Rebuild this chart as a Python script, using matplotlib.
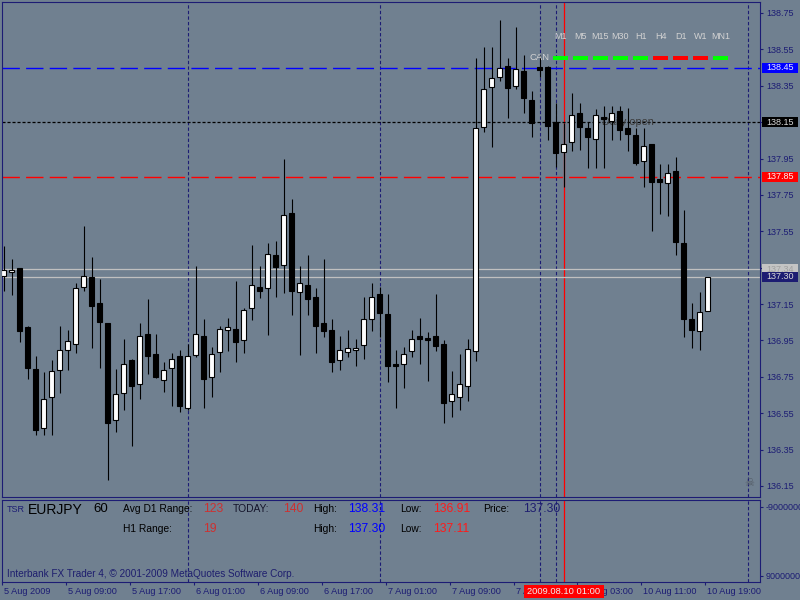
import numpy as np
import matplotlib.pyplot as plt
from matplotlib.patches import Rectangle
from matplotlib.transforms import blended_transform_factory, ScaledTranslation

plt.rcParams['font.family'] = ['Liberation Sans', 'DejaVu Sans']
plt.rcParams['lines.scale_dashes'] = False

# EURJPY H1 candles (5 Aug 2009 01:00 .. 10 Aug 2009 19:00)
opens = [137.303, 137.324, 137.347, 137.023, 136.792, 136.470, 136.640, 136.788, 136.900, 136.930,
         137.241, 137.298, 137.155, 137.045, 136.510, 136.663, 136.840, 136.713, 136.983, 136.873,
         136.730, 136.800, 136.864, 136.579, 136.870, 136.974, 136.750, 136.884, 137.005, 137.012,
         136.955, 137.126, 137.241, 137.236, 137.418, 137.362, 137.648, 137.214, 137.252, 137.186,
         137.045, 137.010, 136.840, 136.884, 136.895, 136.923, 137.070, 137.203, 137.093, 136.823,
         136.820, 136.893, 136.974, 136.962, 136.974, 136.930, 136.617, 136.640, 136.700, 136.893,
         138.125, 138.345, 138.396, 138.459, 138.350, 138.431, 138.272, 138.453, 138.455, 138.150,
         137.987, 138.039, 138.198, 138.117, 138.055, 138.180, 138.158, 138.211, 138.118, 138.079,
         137.934, 138.030, 137.837, 137.818, 137.881, 137.483, 137.067, 137.003, 137.113]
highs = [137.469, 137.397, 137.347, 137.032, 136.865, 136.775, 136.840, 137.030, 137.010, 137.263,
         137.578, 137.408, 137.287, 137.045, 136.792, 136.960, 136.850, 137.045, 137.177, 136.983,
         136.834, 136.883, 136.897, 136.928, 137.360, 137.067, 136.913, 137.032, 137.072, 137.277,
         137.127, 137.474, 137.358, 137.487, 137.496, 137.945, 137.727, 137.358, 137.420, 137.237,
         137.397, 137.067, 136.974, 137.005, 136.960, 137.186, 137.263, 137.241, 137.203, 136.900,
         136.913, 137.006, 137.072, 136.995, 137.205, 136.955, 136.780, 136.875, 136.957, 138.500,
         138.565, 138.565, 138.712, 138.500, 138.671, 138.519, 138.320, 138.520, 138.460, 138.253,
         138.143, 138.310, 138.253, 138.152, 138.220, 138.238, 138.238, 138.238, 138.229, 138.116,
         138.116, 138.030, 137.920, 137.920, 137.960, 137.667, 137.153, 137.214, 137.300]
lows = [137.223, 137.199, 136.940, 136.737, 136.430, 136.430, 136.430, 136.660, 136.787, 136.880,
        137.220, 136.910, 136.800, 136.180, 136.447, 136.570, 136.370, 136.630, 136.763, 136.745,
        136.668, 136.590, 136.557, 136.570, 136.860, 136.580, 136.640, 136.775, 136.890, 136.832,
        136.880, 137.063, 137.184, 136.980, 137.190, 137.210, 137.090, 136.870, 137.090, 136.880,
        136.970, 136.777, 136.787, 136.860, 136.810, 136.850, 137.003, 136.970, 136.722, 136.580,
        136.690, 136.860, 136.820, 136.726, 136.893, 136.497, 136.530, 136.567, 136.616, 136.836,
        138.097, 138.015, 138.378, 138.174, 138.330, 138.198, 138.066, 138.400, 138.050, 137.905,
        137.795, 137.990, 137.997, 137.896, 137.896, 137.896, 138.050, 138.050, 137.993, 137.914,
        137.795, 137.551, 137.645, 137.636, 137.419, 136.970, 136.910, 136.900, 137.110]
closes = [137.335, 137.335, 137.003, 136.799, 136.457, 136.630, 136.780, 136.895, 136.945, 137.237,
          137.302, 137.140, 137.052, 136.497, 136.653, 136.823, 136.700, 136.972, 136.862, 136.750,
          136.790, 136.850, 136.590, 136.864, 136.983, 136.737, 136.875, 137.012, 137.023, 136.943,
          137.116, 137.252, 137.223, 137.425, 137.355, 137.637, 137.223, 137.263, 137.175, 137.030,
          137.003, 136.832, 136.895, 136.910, 136.910, 137.066, 137.190, 137.102, 136.810, 136.810,
          136.873, 136.960, 136.960, 136.953, 136.920, 136.607, 136.653, 136.713, 136.902, 138.116,
          138.330, 138.391, 138.450, 138.340, 138.440, 138.280, 138.147, 138.437, 138.128, 137.978,
          138.030, 138.187, 138.125, 138.067, 138.187, 138.165, 138.198, 138.107, 138.085, 137.927,
          138.019, 137.822, 137.822, 137.868, 137.492, 137.067, 137.007, 137.104, 137.300]

time_ticks = [0, 8, 16, 24, 32, 40, 48, 56, 64, 72, 80, 88]
time_labels = ['5 Aug 2009', '5 Aug 09:00', '5 Aug 17:00', '6 Aug 01:00', '6 Aug 09:00',
               '6 Aug 17:00', '7 Aug 01:00', '7 Aug 09:00', '7 Aug 17:00', '10 Aug 03:00',
               '10 Aug 11:00', '10 Aug 19:00']
day_breaks = [23, 47, 67, 69, 93]
cursor_bar = 70
cursor_label = '2009.08.10 01:00'

level_high = 138.45
daily_open = 138.15
level_low = 137.85
ask = 137.34
bid = 137.30
price_ticks = [136.15, 136.35, 136.55, 136.75, 136.95, 137.15, 137.35, 137.55,
               137.75, 137.95, 138.15, 138.35, 138.55, 138.75]

tf_labels = ['M1', 'M5', 'M15', 'M30', 'H1', 'H4', 'D1', 'W1', 'MN1']
tf_trend = ['up', 'up', 'up', 'up', 'up', 'down', 'down', 'down', 'up']

symbol, period = 'EURJPY', '60'
avg_d1_range, today_range, h1_range = 123, 140, 19
day_high, day_low, h1_high, h1_low = 138.31, 136.91, 137.30, 137.11

BG = '#708090'
NAVY = '#1c1c74'
W, H = 800, 600


def fx(px):
    return px / W


def fy(py):
    return 1 - py / H


fig = plt.figure(figsize=(8, 6), dpi=100, facecolor=BG)
ax = fig.add_axes([fx(2.3), fy(497.3), (760 - 2.3) / W, (497.3 - 2.3) / H], facecolor=BG)
ax2 = fig.add_axes([fx(2.3), fy(581.7), (760 - 2.3) / W, (581.7 - 500) / H], facecolor=BG)

for a in (ax, ax2):
    a.set_xlim(-0.15, 94.56)
    for s in a.spines.values():
        s.set_color(NAVY)
        s.set_linewidth(0.8)
    for d in day_breaks:
        a.axvline(d, color=NAVY, lw=0.8, dashes=(2.4, 1.6), zorder=1)
    a.axvline(cursor_bar, color='#ff0000', lw=0.9, zorder=1.5)

# main price panel
ax.set_ylim(136.0876, 138.8088)
ax.axhline(level_high, color='#0000ff', lw=1.0, dashes=(12.5, 4.5), zorder=2)
ax.axhline(daily_open, color='black', lw=0.9, dashes=(2.2, 1.4), zorder=2)
ax.axhline(level_low, color='#ff0000', lw=1.0, dashes=(12.5, 4.5), zorder=2)
ax.axhline(ask, color='#c0c0c0', lw=0.9, zorder=2)
ax.axhline(bid, color='#c0c0c0', lw=0.9, zorder=2)
ax.text(74.8, daily_open, 'Daily open', color='#3a3a3a', fontsize=7.8,
        ha='left', va='center', zorder=2.2)

o, h, l, c = (np.array(v) for v in (opens, highs, lows, closes))
x = np.arange(len(o))
up = c >= o
ax.vlines(x, l, h, color='black', lw=0.8, zorder=3)
ax.bar(x, np.maximum(np.abs(c - o), 0.004), bottom=np.minimum(o, c), width=0.52,
       color=np.where(up, 'white', 'black'), edgecolor='black', linewidth=0.8, zorder=4)

ax.set_xticks([])
ax.yaxis.tick_right()
ax.set_yticks(price_ticks)
ax.set_yticklabels([f'{p:.2f}' for p in price_ticks])
ax.tick_params(axis='y', colors=NAVY, labelsize=6.5, length=2.5, width=0.8, pad=1.8)

blend = blended_transform_factory(fig.transFigure, ax.transData)
bh = 10 / 181.9
for level, bg, fg in [(level_high, '#0000ff', '#e8e8ff'), (daily_open, '#000000', '#d8d8d8'),
                      (level_low, '#ff0000', '#fff0f0'), (ask, '#c4c4c4', '#a0a0a0'),
                      (bid, '#1c1c72', '#d8d8d8')]:
    ax.add_patch(Rectangle((fx(762), level - bh / 2), 36 / W, bh, transform=blend,
                           facecolor=bg, edgecolor='none', clip_on=False, zorder=10))
    ax.text(fx(780), level, f'{level:.2f}', transform=blend, ha='center', va='center',
            color=fg, fontsize=6.5, clip_on=False, zorder=11)

# trend indicator
fig.text(fx(530), fy(58), 'CAN', ha='left', va='center', fontsize=6.8, color='#d3d3d3')
for k, (lab, tr) in enumerate(zip(tf_labels, tf_trend)):
    cx = 560.5 + 20 * k
    fig.add_artist(Rectangle((fx(cx - 7.5), fy(60)), 15 / W, 4 / H, transform=fig.transFigure,
                             facecolor='#00ff00' if tr == 'up' else '#ff0000', edgecolor='none'))
    fig.text(fx(cx), fy(36.5), lab, ha='center', va='center', fontsize=6.5, color='#d3d3d3')
fig.text(fx(749), fy(483), '\u2620', family='DejaVu Sans', fontsize=8, color='#525a64',
         ha='center', va='center')

# lower info panel
ax2.set_ylim(10.564e6, -10.75e6)
ax2.yaxis.tick_right()
ax2.set_yticks([-9e6, 9e6])
ax2.set_yticklabels(['-9000000', '9000000'])
ax2.tick_params(axis='y', colors=NAVY, labelsize=6.5, length=2.5, width=0.8, pad=1.8)
ax2.set_xticks([t - 0.3 for t in time_ticks])
ax2.set_xticklabels(time_labels)
ax2.tick_params(axis='x', colors=NAVY, labelsize=6.6, length=2.5, width=0.8, pad=1.2)
for lab in ax2.get_xticklabels():
    lab.set_horizontalalignment('left')
    lab.set_transform(lab.get_transform() + ScaledTranslation(2 / 100, 0, fig.dpi_scale_trans))

row1, row2 = fy(509.5), fy(529.5)
fig.text(fx(7), row1, 'TSR', color=NAVY, fontsize=6.5, va='center')
fig.text(fx(28), row1, symbol, color='black', fontsize=10, va='center')
fig.text(fx(93), row1, period, color='black', fontsize=9.5, va='center')
fig.text(fx(123), row1, 'Avg D1 Range:', color='black', fontsize=7.4, va='center')
fig.text(fx(203), row1, str(avg_d1_range), color='#cd3030', fontsize=8.7, va='center')
fig.text(fx(233), row1, 'TODAY:', color='#14142a', fontsize=7.4, va='center')
fig.text(fx(283), row1, str(today_range), color='#cd3030', fontsize=8.7, va='center')
fig.text(fx(313), row1, 'High:', color='black', fontsize=7.4, va='center')
fig.text(fx(348), row1, f'{day_high:.2f}', color='#0000ff', fontsize=8.7, va='center')
fig.text(fx(400), row1, 'Low:', color='black', fontsize=7.4, va='center')
fig.text(fx(433), row1, f'{day_low:.2f}', color='#ff1a1a', fontsize=8.7, va='center')
fig.text(fx(483), row1, 'Price:', color='black', fontsize=7.4, va='center')
fig.text(fx(523), row1, f'{bid:.2f}', color='#1e1e70', fontsize=8.7, va='center')
fig.text(fx(123), row2, 'H1 Range:', color='black', fontsize=7.4, va='center')
fig.text(fx(203), row2, str(h1_range), color='#cd3030', fontsize=8.7, va='center')
fig.text(fx(313), row2, 'High:', color='black', fontsize=7.4, va='center')
fig.text(fx(348), row2, f'{h1_high:.2f}', color='#0000ff', fontsize=8.7, va='center')
fig.text(fx(400), row2, 'Low:', color='black', fontsize=7.4, va='center')
fig.text(fx(433), row2, f'{h1_low:.2f}', color='#ff1a1a', fontsize=8.7, va='center')
fig.text(fx(7), fy(574), 'Interbank FX Trader 4, \u00a9 2001-2009 MetaQuotes Software Corp.',
         color='#1e1e6e', fontsize=7.2, va='center')

# cursor time label
cx = 3.5 + 8 * cursor_bar
fig.add_artist(Rectangle((fx(cx - 40), fy(598)), 80 / W, 13 / H, transform=fig.transFigure,
                         facecolor='#ff0000', edgecolor='none', zorder=10))
fig.text(fx(cx), fy(591.5), cursor_label, ha='center', va='center', color='#f0f0f0',
         fontsize=6.7, zorder=11)

fig.savefig('out.png', dpi=100, facecolor=BG)
